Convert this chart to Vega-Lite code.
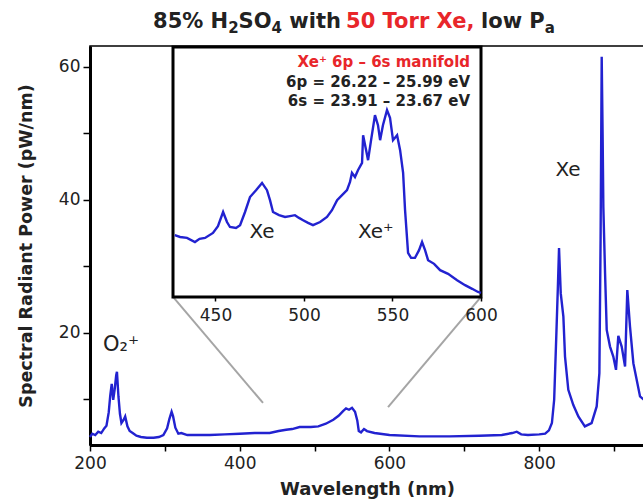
{
  "$schema": "https://vega.github.io/schema/vega-lite/v6.json",
  "width": 554,
  "height": 399,
  "autosize": {"type": "none"},
  "padding": {"left": 90, "top": 46, "right": 0, "bottom": 55},
  "background": "white",
  "config": {"view": {"stroke": "black", "strokeWidth": 1.5}, "font": "DejaVu Sans"},
  "datasets": {
    "main": [
      {"wl":200,"p":4.3},{"wl":203,"p":4.8},{"wl":207,"p":4.6},{"wl":211,"p":5.1},{"wl":215,"p":4.9},{"wl":219,"p":5.6},{"wl":222,"p":6.0},{"wl":225,"p":8.0},{"wl":227,"p":10.5},{"wl":229,"p":12.3},{"wl":231,"p":9.9},{"wl":233,"p":11.5},{"wl":235,"p":13.6},{"wl":236,"p":14.1},{"wl":238,"p":10.4},{"wl":240,"p":7.8},{"wl":242,"p":6.4},{"wl":245,"p":6.9},{"wl":247,"p":7.4},{"wl":250,"p":5.9},{"wl":253,"p":5.2},{"wl":257,"p":4.9},{"wl":262,"p":4.5},{"wl":268,"p":4.3},{"wl":276,"p":4.2},{"wl":285,"p":4.2},{"wl":292,"p":4.3},{"wl":298,"p":4.6},{"wl":303,"p":5.6},{"wl":306,"p":7.0},{"wl":309,"p":8.1},{"wl":311,"p":7.4},{"wl":314,"p":5.7},{"wl":318,"p":4.8},{"wl":322,"p":4.9},{"wl":330,"p":4.6},{"wl":345,"p":4.6},{"wl":360,"p":4.6},{"wl":380,"p":4.7},{"wl":400,"p":4.8},{"wl":420,"p":4.9},{"wl":440,"p":4.9},{"wl":452,"p":5.2},{"wl":462,"p":5.4},{"wl":470,"p":5.5},{"wl":480,"p":5.8},{"wl":495,"p":5.8},{"wl":505,"p":5.9},{"wl":515,"p":6.3},{"wl":525,"p":6.9},{"wl":532,"p":7.5},{"wl":538,"p":8.2},{"wl":542,"p":8.6},{"wl":546,"p":8.4},{"wl":550,"p":8.7},{"wl":554,"p":8.1},{"wl":557,"p":6.8},{"wl":559,"p":5.2},{"wl":562,"p":5.0},{"wl":566,"p":5.5},{"wl":570,"p":5.2},{"wl":580,"p":4.9},{"wl":600,"p":4.6},{"wl":640,"p":4.4},{"wl":680,"p":4.4},{"wl":720,"p":4.5},{"wl":750,"p":4.6},{"wl":764,"p":4.9},{"wl":770,"p":5.1},{"wl":776,"p":4.7},{"wl":785,"p":4.6},{"wl":800,"p":4.7},{"wl":808,"p":4.8},{"wl":813,"p":5.3},{"wl":817,"p":6.4},{"wl":820,"p":9.9},{"wl":823,"p":20},{"wl":825,"p":27},{"wl":826.5,"p":32.7},{"wl":828.8,"p":25.9},{"wl":832.3,"p":22.4},{"wl":834.5,"p":16.4},{"wl":838.9,"p":11.4},{"wl":845.6,"p":9.1},{"wl":852.3,"p":7.4},{"wl":861,"p":5.9},{"wl":870,"p":6.4},{"wl":876.8,"p":8.9},{"wl":880.4,"p":13.9},{"wl":882,"p":33.9},{"wl":883.5,"p":61.5},{"wl":884.8,"p":49},{"wl":885.7,"p":38.9},{"wl":888,"p":28.9},{"wl":890.2,"p":20.4},{"wl":894.6,"p":17.9},{"wl":899,"p":16.4},{"wl":902.6,"p":14.4},{"wl":905.7,"p":19.5},{"wl":910.2,"p":17.9},{"wl":914.7,"p":14.9},{"wl":917.7,"p":26.4},{"wl":921.3,"p":20.9},{"wl":925.8,"p":15.4},{"wl":934.7,"p":10.4},{"wl":940,"p":9.9}
    ],
    "inset": [
      {"wl":427,"v":5.46},{"wl":430,"v":5.42},{"wl":433.9,"v":5.40},{"wl":438.4,"v":5.31},{"wl":441,"v":5.38},{"wl":444.1,"v":5.40},{"wl":448.6,"v":5.51},{"wl":451.4,"v":5.66},{"wl":454.3,"v":5.97},{"wl":456.5,"v":5.75},{"wl":458.2,"v":5.64},{"wl":461.6,"v":5.62},{"wl":463.9,"v":5.68},{"wl":466.7,"v":5.97},{"wl":469.5,"v":6.30},{"wl":472.9,"v":6.45},{"wl":476.3,"v":6.61},{"wl":479.1,"v":6.45},{"wl":480.8,"v":6.23},{"wl":482.5,"v":5.97},{"wl":485.9,"v":5.90},{"wl":489.3,"v":5.86},{"wl":492.1,"v":5.88},{"wl":494.9,"v":5.90},{"wl":497.2,"v":5.84},{"wl":499.5,"v":5.79},{"wl":502.3,"v":5.73},{"wl":505.1,"v":5.68},{"wl":509.1,"v":5.75},{"wl":513.0,"v":5.86},{"wl":515.8,"v":6.01},{"wl":518.7,"v":6.23},{"wl":521.5,"v":6.34},{"wl":524.3,"v":6.45},{"wl":526.0,"v":6.63},{"wl":527.1,"v":6.83},{"wl":528.8,"v":6.74},{"wl":530.5,"v":6.89},{"wl":532.8,"v":7.05},{"wl":533.4,"v":7.66},{"wl":535.1,"v":7.33},{"wl":536.2,"v":7.11},{"wl":537.9,"v":7.55},{"wl":540.1,"v":8.10},{"wl":541.8,"v":7.88},{"wl":543.0,"v":7.55},{"wl":544.6,"v":7.88},{"wl":546.9,"v":8.21},{"wl":548.6,"v":8.04},{"wl":550.3,"v":7.55},{"wl":552.6,"v":7.66},{"wl":554.3,"v":7.33},{"wl":556.0,"v":6.83},{"wl":557.1,"v":6.01},{"wl":558.8,"v":5.07},{"wl":560.5,"v":4.96},{"wl":562.7,"v":4.96},{"wl":565.0,"v":5.13},{"wl":566.7,"v":5.31},{"wl":568.4,"v":5.13},{"wl":570.1,"v":4.91},{"wl":573.5,"v":4.83},{"wl":576.9,"v":4.69},{"wl":581.4,"v":4.61},{"wl":586.5,"v":4.47},{"wl":591.0,"v":4.36},{"wl":595.0,"v":4.28},{"wl":598.3,"v":4.21},{"wl":600,"v":4.19}
    ],
    "title": [
      {"t":"85% H","wl":284.2,"y":66.7,"fs":21,"c":"k"},
      {"t":"2","wl":384.6,"y":65.8,"fs":15,"c":"k"},
      {"t":"SO","wl":398.5,"y":66.7,"fs":21,"c":"k"},
      {"t":"4","wl":442.6,"y":65.8,"fs":15,"c":"k"},
      {"t":"with","wl":466.2,"y":66.7,"fs":21,"c":"k"},
      {"t":"50 Torr Xe,","wl":542.0,"y":66.7,"fs":21,"c":"r"},
      {"t":"low P","wl":722.3,"y":66.7,"fs":21,"c":"k"},
      {"t":"a","wl":807.4,"y":65.8,"fs":15,"c":"k"}
    ]
  },
  "layer": [
    {
      "layer": [
        {
          "data": {"name": "main"},
          "mark": {"type": "line", "color": "#2222d0", "strokeWidth": 2.4},
          "encoding": {
            "x": {"field": "wl", "type": "quantitative",
              "scale": {"domain": [200, 940], "nice": false, "zero": false},
              "axis": {"title": "Wavelength (nm)", "values": [200,300,400,500,600,700,800,900],
                "labelExpr": "datum.value % 200 == 0 ? datum.label : ''",
                "grid": false, "domainColor": "black", "domainWidth": 3, "tickColor": "black", "tickWidth": 1.5, "tickSize": 6,
                "labelFont": "DejaVu Sans", "labelFontSize": 17, "labelColor": "#222", "labelPadding": 4, "labelFlush": false, "labelOverlap": false,
                "titleFont": "DejaVu Sans", "titleFontWeight": "bold", "titleFontSize": 18, "titleColor": "#222", "titlePadding": 9}},
            "y": {"field": "p", "type": "quantitative",
              "scale": {"domain": [3.1, 63.1], "nice": false, "zero": false},
              "axis": {"title": "Spectral Radiant Power (pW/nm)", "values": [10,20,30,40,50,60],
                "labelExpr": "datum.value % 20 == 0 ? datum.label : ''",
                "grid": false, "domainColor": "black", "domainWidth": 3, "tickColor": "black", "tickWidth": 1.5, "tickSize": 7,
                "labelFont": "DejaVu Sans", "labelFontSize": 17, "labelColor": "#222", "labelPadding": 3, "labelFlush": false, "labelOverlap": false,
                "titleFont": "DejaVu Sans", "titleFontWeight": "bold", "titleFontSize": 17.5, "titleColor": "#222", "titlePadding": 23}}
          }
        },
        {
          "data": {"values": [{}]},
          "mark": {"type": "rule", "color": "#a5a5a5", "strokeWidth": 2},
          "encoding": {"x": {"datum": 310.9, "type": "quantitative"}, "y": {"datum": 25.36, "type": "quantitative"}, "x2": {"datum": 431.1}, "y2": {"datum": 9.42}}
        },
        {
          "data": {"values": [{}]},
          "mark": {"type": "rule", "color": "#a5a5a5", "strokeWidth": 2},
          "encoding": {"x": {"datum": 722.3, "type": "quantitative"}, "y": {"datum": 25.36, "type": "quantitative"}, "x2": {"datum": 598.1}, "y2": {"datum": 8.81}}
        },
        {
          "data": {"values": [{}]},
          "mark": {"type": "text", "text": "O₂⁺", "align": "left", "baseline": "middle", "fontSize": 21, "color": "#222", "font": "DejaVu Sans"},
          "encoding": {"x": {"datum": 217.4, "type": "quantitative"}, "y": {"datum": 18.1, "type": "quantitative"}}
        },
        {
          "data": {"values": [{}]},
          "mark": {"type": "text", "text": "Xe", "align": "center", "baseline": "middle", "fontSize": 20, "color": "#222", "font": "DejaVu Sans"},
          "encoding": {"x": {"datum": 838.5, "type": "quantitative"}, "y": {"datum": 44.5, "type": "quantitative"}}
        },
        {
          "data": {"name": "title"},
          "mark": {"type": "text", "align": "left", "baseline": "middle", "fontWeight": "bold", "font": "DejaVu Sans"},
          "encoding": {
            "x": {"field": "wl", "type": "quantitative"},
            "y": {"field": "y", "type": "quantitative"},
            "text": {"field": "t"},
            "size": {"field": "fs", "type": "quantitative", "scale": null},
            "color": {"field": "c", "type": "nominal", "scale": {"domain": ["k", "r"], "range": ["#222222", "#e8262a"]}, "legend": null}
          }
        }
      ]
    },
    {
      "layer": [
        {
          "data": {"values": [{}]},
          "mark": {"type": "rect", "fill": "white", "stroke": "black", "strokeWidth": 3},
          "encoding": {
            "x": {"datum": 426, "type": "quantitative", "scale": {"domain": [426, 600], "range": [83, 391], "nice": false, "zero": false},
              "axis": {"title": null, "values": [450,500,550,600], "orient": "bottom", "offset": -148, "domain": false, "grid": false, "zindex": 1,
                "tickColor": "black", "tickWidth": 1.5, "tickSize": 4, "labelFont": "DejaVu Sans", "labelFontSize": 17, "labelColor": "#222", "labelPadding": 6, "labelFlush": false, "labelOverlap": false}},
            "x2": {"datum": 600},
            "y": {"datum": 4.1, "type": "quantitative", "scale": {"domain": [4.1, 9.6], "range": [251, 1], "nice": false, "zero": false}, "axis": null},
            "y2": {"datum": 9.6}
          }
        },
        {
          "data": {"name": "inset"},
          "mark": {"type": "line", "color": "#2222d0", "strokeWidth": 2.4},
          "encoding": {
            "x": {"field": "wl", "type": "quantitative"},
            "y": {"field": "v", "type": "quantitative"}
          }
        },
        {
          "data": {"values": [{}]},
          "mark": {"type": "text", "text": "Xe", "align": "center", "baseline": "middle", "fontSize": 20, "color": "#222", "font": "DejaVu Sans"},
          "encoding": {"x": {"datum": 476.3, "type": "quantitative"}, "y": {"datum": 5.52, "type": "quantitative"}}
        },
        {
          "data": {"values": [{}]},
          "mark": {"type": "text", "text": "Xe⁺", "align": "left", "baseline": "middle", "fontSize": 20, "color": "#222", "font": "DejaVu Sans"},
          "encoding": {"x": {"datum": 530.5, "type": "quantitative"}, "y": {"datum": 5.53, "type": "quantitative"}}
        },
        {
          "data": {"values": [{}]},
          "mark": {"type": "text", "text": "Xe⁺ 6p – 6s manifold", "align": "right", "baseline": "middle", "fontSize": 15, "fontWeight": "bold", "color": "#e8262a", "font": "DejaVu Sans"},
          "encoding": {"x": {"datum": 593.8, "type": "quantitative"}, "y": {"datum": 9.27, "type": "quantitative"}}
        },
        {
          "data": {"values": [{}]},
          "mark": {"type": "text", "text": "6p = 26.22 – 25.99 eV", "align": "right", "baseline": "middle", "fontSize": 15, "fontWeight": "bold", "color": "#222", "font": "DejaVu Sans"},
          "encoding": {"x": {"datum": 593.8, "type": "quantitative"}, "y": {"datum": 8.83, "type": "quantitative"}}
        },
        {
          "data": {"values": [{}]},
          "mark": {"type": "text", "text": "6s = 23.91 – 23.67 eV", "align": "right", "baseline": "middle", "fontSize": 15, "fontWeight": "bold", "color": "#222", "font": "DejaVu Sans"},
          "encoding": {"x": {"datum": 593.8, "type": "quantitative"}, "y": {"datum": 8.41, "type": "quantitative"}}
        }
      ]
    }
  ],
  "resolve": {"scale": {"x": "independent", "y": "independent"}, "axis": {"x": "independent", "y": "independent"}}
}
